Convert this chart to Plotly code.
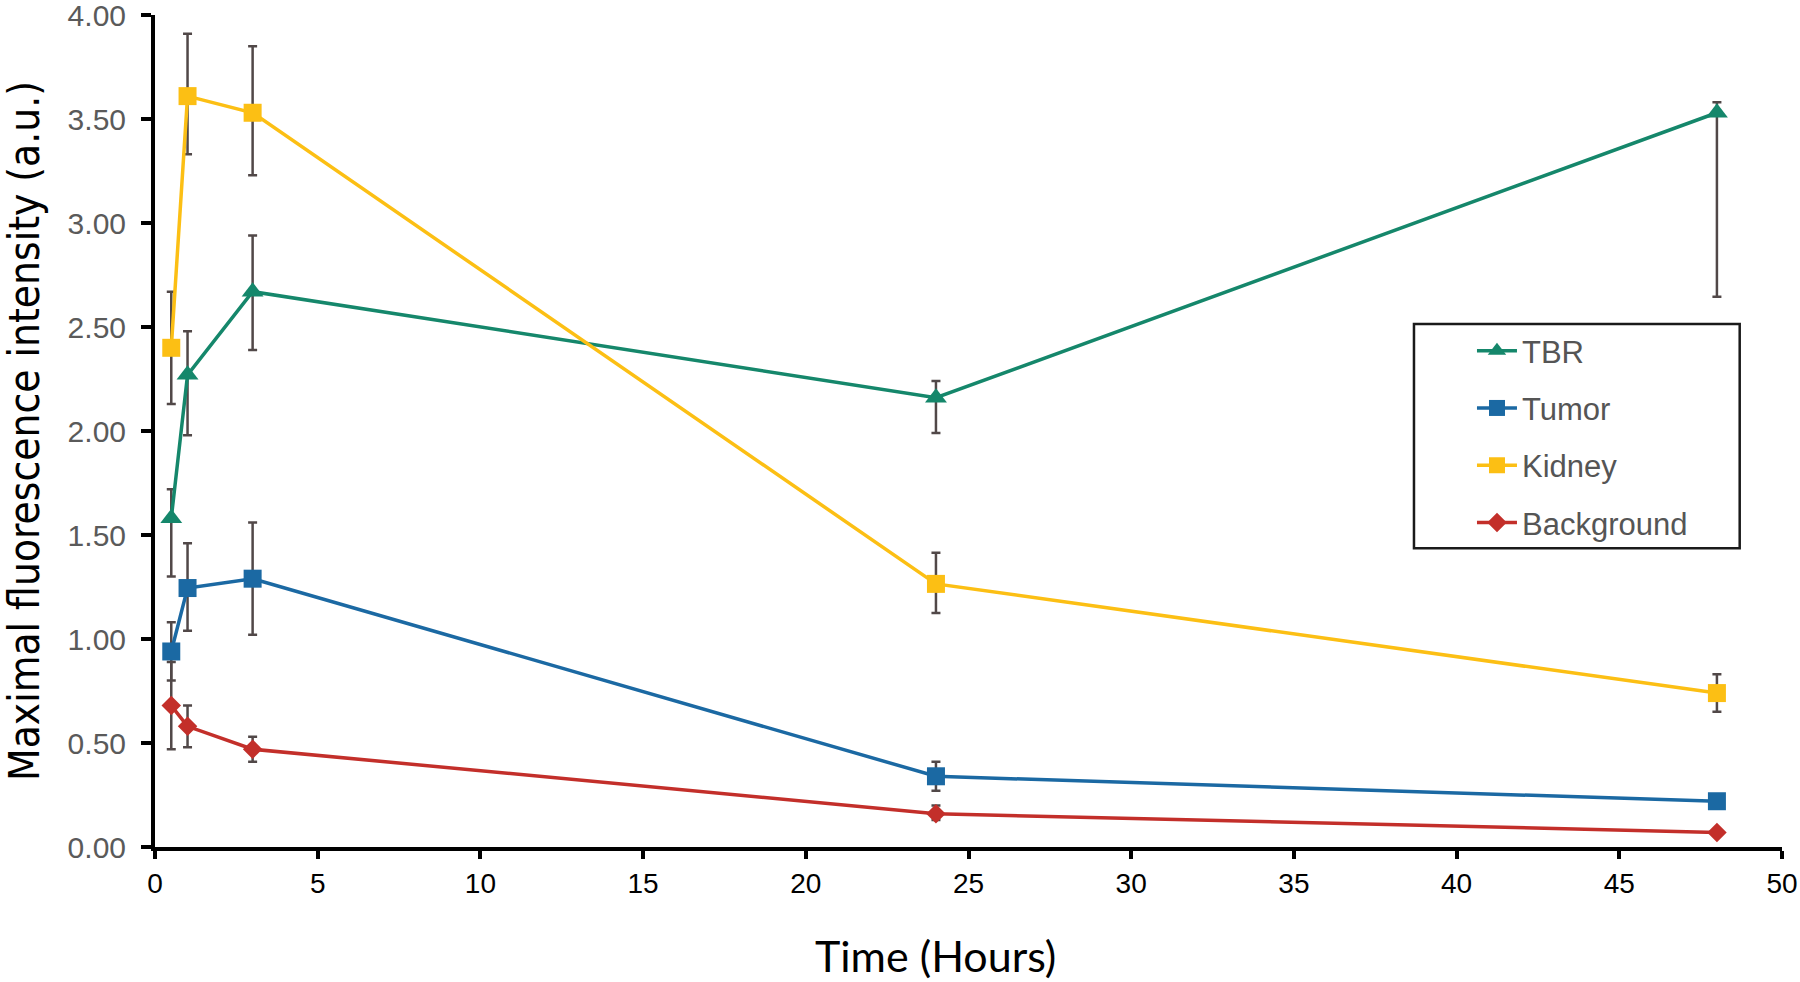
import plotly.graph_objects as go

time_h = [0.5, 1, 3, 24, 48]

tbr = [1.58, 2.27, 2.67, 2.16, 3.53]
tbr_hi = [1.72, 2.48, 2.94, 2.24, 3.58]
tbr_lo = [1.30, 1.98, 2.39, 1.99, 2.645]

tumor = [0.94, 1.245, 1.29, 0.34, 0.22]
tumor_hi = [1.08, 1.46, 1.56, 0.41, 0.25]
tumor_lo = [0.80, 1.04, 1.02, 0.27, 0.19]

kidney = [2.40, 3.61, 3.53, 1.265, 0.74]
kidney_hi = [2.67, 3.91, 3.85, 1.415, 0.83]
kidney_lo = [2.13, 3.33, 3.23, 1.125, 0.65]

background = [0.68, 0.58, 0.47, 0.16, 0.07]
background_hi = [0.89, 0.68, 0.53, 0.20, 0.075]
background_lo = [0.47, 0.48, 0.41, 0.13, 0.065]

y_ticks = [0, 0.5, 1.0, 1.5, 2.0, 2.5, 3.0, 3.5, 4.0]
x_ticks = [0, 5, 10, 15, 20, 25, 30, 35, 40, 45, 50]

series = [
    ("TBR", tbr, tbr_hi, tbr_lo, "#15876b", "triangle-up", 19),
    ("Tumor", tumor, tumor_hi, tumor_lo, "#1b69a3", "square", 18),
    ("Kidney", kidney, kidney_hi, kidney_lo, "#fcbf14", "square", 18),
    ("Background", background, background_hi, background_lo, "#c32f2a", "diamond", 15),
]

fig = go.Figure()
for name, vals, hi, lo, color, sym, msize in series:
    fig.add_trace(go.Scatter(
        x=time_h, y=vals, name=name, mode="lines+markers", legendgroup=name,
        line=dict(color=color, width=3.5),
        marker=dict(symbol=sym, size=msize, color=color),
        error_y=dict(type="data", symmetric=False,
                     array=[h - v for h, v in zip(hi, vals)],
                     arrayminus=[v - l for v, l in zip(vals, lo)],
                     color="#514848", thickness=2.5, width=4.5),
    ))

fig.update_layout(
    width=1800, height=982,
    margin=dict(l=155, r=18, t=15, b=135),
    plot_bgcolor="white", paper_bgcolor="white",
    showlegend=True,
    legend=dict(
        x=0.7738, y=0.6286, xanchor="left", yanchor="top",
        borderwidth=0, bgcolor="rgba(0,0,0,0)",
        font=dict(family="Liberation Sans, Arial, sans-serif", size=31, color="#555555"),
        indentation=58, itemwidth=40, tracegroupgap=14,
    ),
    shapes=[dict(type="rect", xref="paper", yref="paper",
                 x0=0.7738, x1=0.974, y0=0.359, y1=0.6286,
                 line=dict(color="#1a1a1a", width=2.5), fillcolor="rgba(0,0,0,0)", layer="above")],
    annotations=[dict(text="Time (Hours)", xref="paper", yref="paper", x=0.48, y=-0.131,
                      xanchor="center", yanchor="middle", showarrow=False,
                      font=dict(family="Lato, Liberation Sans, sans-serif", size=43, color="black"))],
    xaxis=dict(
        range=[0, 50], tickvals=x_ticks, showline=True, linecolor="black", linewidth=4,
        ticks="outside", ticklen=8, tickwidth=4, tickcolor="black", showgrid=False, zeroline=False,
        tickfont=dict(family="Liberation Sans, Arial, sans-serif", size=28, color="black"),
        ticklabelstandoff=0, automargin=False, ticklabeloverflow="allow",
    ),
    yaxis=dict(
        range=[0, 4], tickvals=y_ticks, tickformat=".2f", showline=True, linecolor="black", linewidth=4,
        ticks="outside", ticklen=10, tickwidth=4, tickcolor="black", showgrid=False, zeroline=False,
        tickfont=dict(family="Liberation Sans, Arial, sans-serif", size=30, color="#5a5a5a"),
        ticklabelstandoff=9, automargin=False, ticklabeloverflow="allow",
        title=dict(text="Maximal fluorescence intensity (a.u.)", standoff=30,
                   font=dict(family="Liberation Sans Narrow, DejaVu Sans Condensed, sans-serif", size=42, color="black")),
    ),
    yaxis2=dict(
        overlaying="y", anchor="x", side="left", range=[0, 4], tickvals=y_ticks,
        ticks="inside", ticklen=7, tickwidth=4, tickcolor="black",
        showticklabels=False, showgrid=False, showline=False, zeroline=False, automargin=False,
    ),
)

fig.write_html("out.html", config={"displayModeBar": False},
               post_script="document.body.style.margin='0';document.body.style.overflow='hidden';")
